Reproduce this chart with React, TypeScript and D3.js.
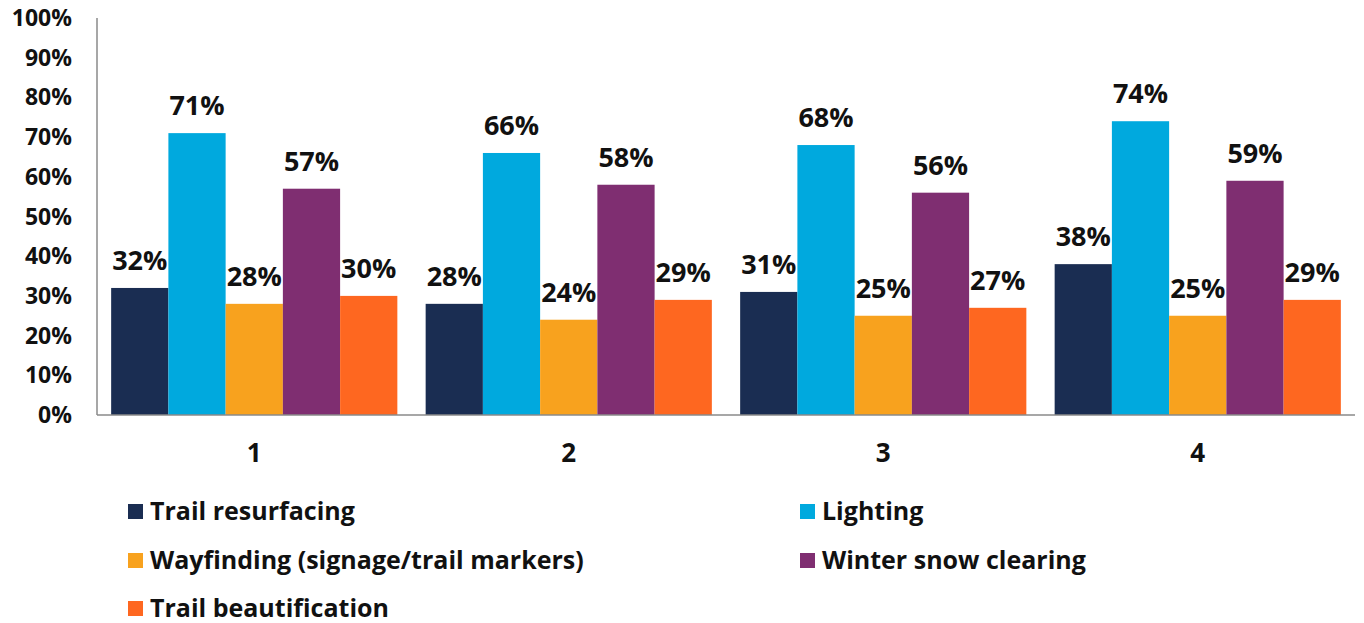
import React from "react";
import * as d3 from "d3";

const categories = ["1", "2", "3", "4"];
const seriesNames = [
  "Trail resurfacing",
  "Lighting",
  "Wayfinding (signage/trail markers)",
  "Winter snow clearing",
  "Trail beautification",
];
const seriesColors = ["#1a2d52", "#00a9de", "#f8a21e", "#7f2e71", "#fe6720"];
const trailResurfacing = [32, 28, 31, 38];
const lighting = [71, 66, 68, 74];
const wayfinding = [28, 24, 25, 25];
const winterSnow = [57, 58, 56, 59];
const beautification = [30, 29, 27, 29];
const seriesValues = [trailResurfacing, lighting, wayfinding, winterSnow, beautification];
const yTicks = [0, 10, 20, 30, 40, 50, 60, 70, 80, 90, 100];

const W = 1364;
const H = 623;
const left = 97;
const right = 1355;
const top = 18;
const bottom = 415;
const FONT = "'Open Sans', 'Noto Sans', sans-serif";

export default function App() {
  const x0 = d3.scaleBand<string>().domain(categories).range([left, right]).paddingInner(0.09).paddingOuter(0.045);
  const x1 = d3.scaleBand<number>().domain(d3.range(seriesNames.length)).range([0, x0.bandwidth()]);
  const y = d3.scaleLinear().domain([0, 100]).range([bottom, top]);

  const legendPos = [
    { x: 128, y: 511 },
    { x: 800, y: 511 },
    { x: 128, y: 560 },
    { x: 800, y: 560 },
    { x: 128, y: 608 },
  ];

  return (
    <svg width={W} height={H} style={{ position: "absolute", left: 0, top: 0, background: "#fff" }} fontFamily={FONT}>
      {yTicks.map((t) => (
        <text key={t} x={72} y={y(t)} dy="0.35em" textAnchor="end" fontSize={23} fontWeight={700} fill="#111">
          {t}%
        </text>
      ))}
      {categories.map((c, ci) => (
        <g key={c}>
          {seriesValues.map((vals, si) => {
            const bx = (x0(c) as number) + (x1(si) as number);
            const v = vals[ci];
            return (
              <g key={si}>
                <rect x={bx} y={y(v)} width={x1.bandwidth()} height={y(0) - y(v)} fill={seriesColors[si]} />
                <text x={bx + x1.bandwidth() / 2} y={y(v) - 18} textAnchor="middle" fontSize={27} fontWeight={700} fill="#111">
                  {v}%
                </text>
              </g>
            );
          })}
          <text x={(x0(c) as number) + x0.bandwidth() / 2} y={462} textAnchor="middle" fontSize={26} fontWeight={700} fill="#111">
            {c}
          </text>
        </g>
      ))}
      <line x1={left} x2={left} y1={top} y2={bottom} stroke="#8a8a8a" strokeWidth={1.5} />
      <line x1={left} x2={right} y1={bottom} y2={bottom} stroke="#8a8a8a" strokeWidth={1.5} />
      {seriesNames.map((n, i) => (
        <g key={n}>
          <rect x={legendPos[i].x} y={legendPos[i].y - 7} width={15} height={15} fill={seriesColors[i]} />
          <text x={legendPos[i].x + 22} y={legendPos[i].y} dy="0.35em" fontSize={25} fontWeight={700} fill="#111">
            {n}
          </text>
        </g>
      ))}
    </svg>
  );
}
